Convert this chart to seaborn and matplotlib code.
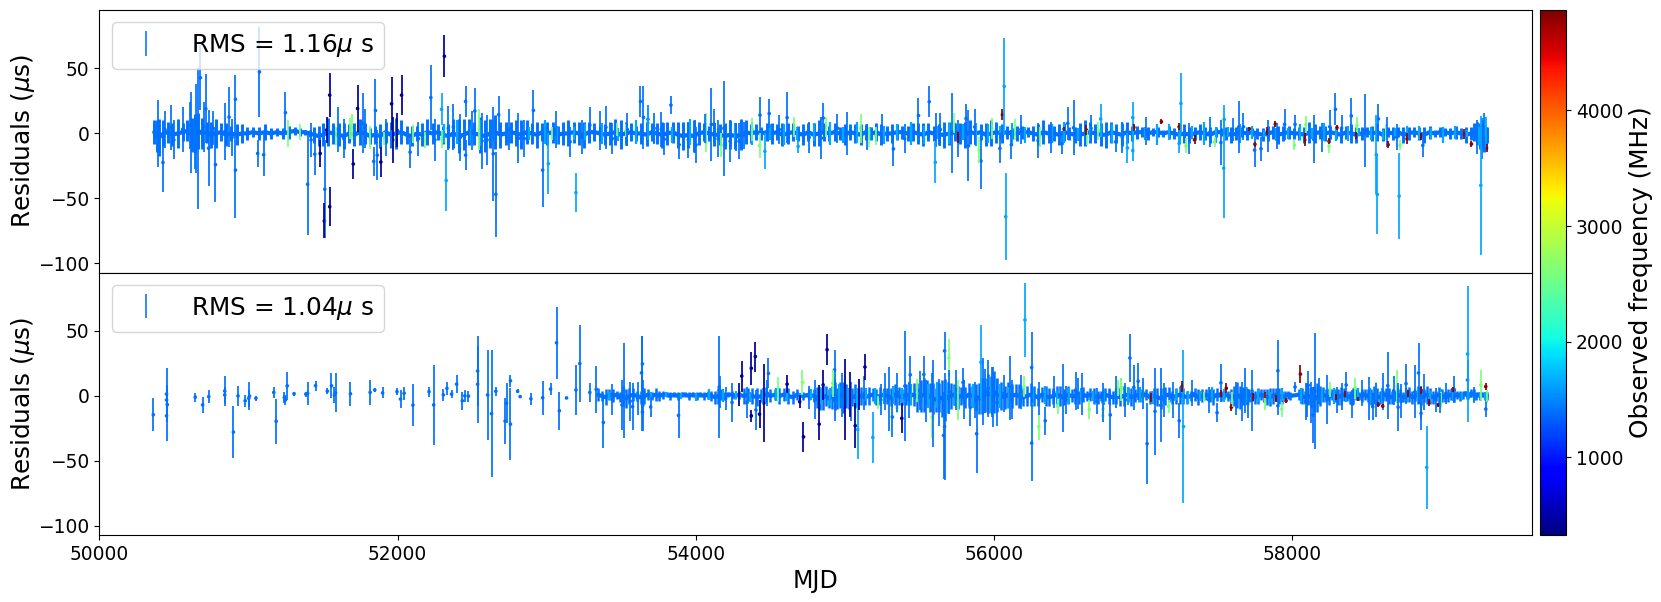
import matplotlib
matplotlib.use("Agg")
import matplotlib.pyplot as plt
import seaborn as sns
import numpy as np
import pandas as pd

# observed frequency of each backend group (MHz)
FREQ_BLUE = 1400
FREQ_LIGHT = 1650
FREQ_GREEN = 2600
FREQ_NAVY = 430
FREQ_RED = 4800
FREQ_MIN = 325
FREQ_MAX = 4870

# ---- upper panel: dense band around zero
top_core_mjd = [
    50368,50385,50402,50430,50458,50490,50525,50560,50590,50620,50640,50665,
    50690,50720,50750,50780,50815,50850,50885,50920,50955,50990,51030,51070,
    51110,51150,51190,51230,51270,51310,51345,51380,51410,51440,51470,51500,
    51535,51570,51605,51640,51675,51710,51745,51780,51815,51850,51885,51920,
    51955,51990,52025,52060,52095,52130,52165,52200,52235,52270,52305,52340,
    52375,52410,52445,52480,52515,52550,52585,52620,52655,52690,52725,52760,
    52795,52830,52865,52900,52935,52970,53005,53040,53075,53110,53145,53180,
    53215,53250,53285,53320,53355,53390,53425,53460,53495,53530,53565,53600,
    53635,53670,53705,53740,53775,53810,53845,53880,53915,53950,53985,54020,
    54055,54090,54125,54160,54195,54230,54265,54300,54335,54370,54405,54440,
    54475,54510,54545,54580,54615,54650,54685,54720,54755,54790,54825,54860,
    54895,54930,54965,55000,55035,55070,55105,55140,55175,55210,55245,55280,
    55315,55350,55385,55420,55455,55490,55525,55560,55595,55630,55665,55700,
    55735,55770,55805,55840,55875,55910,55945,55980,56015,56050,56085,56120,
    56155,56190,56225,56260,56295,56330,56365,56400,56435,56470,56505,56540,
    56575,56610,56645,56680,56715,56750,56785,56820,56855,56890,56925,56960,
    56995,57030,57065,57100,57135,57170,57205,57240,57275,57310,57345,57380,
    57415,57450,57485,57520,57555,57590,57625,57660,57695,57730,57765,57800,
    57835,57870,57905,57940,57975,58010,58045,58080,58115,58150,58185,58220,
    58255,58290,58325,58360,58395,58430,58465,58500,58535,58570,58605,58640,
    58675,58710,58745,58780,58815,58850,58885,58920,58955,58990,59025,59060,
    59095,59130,59165,59200,59220,59240,59255,59270,59282,59292,59298,59302,
]
top_core_res = [
    1,-2,-3,0,1,-1,0,1,2,-1,0,2,
    0,1,-1,0,1,-1,0,-1,0,0,1,0,
    1,0,1,0,1,2,1,1,0,-1,-2,-1,
    1,0,-1,-2,0,-1,1,0,-2,-1,-2,1,
    -1,0,1,-1,-2,0,-1,1,0,1,-1,-2,
    0,-2,-1,1,0,-1,-2,0,1,-1,0,1,
    0,-1,1,0,-1,1,0,1,-1,0,0,1,
    0,-1,1,1,0,-1,0,1,-1,0,1,0,
    0,-1,1,0,-1,0,1,-1,-2,-1,-2,0,
    1,0,-1,-1,-2,-1,-2,-1,1,0,1,0,
    1,0,1,-1,0,1,0,-1,1,-1,0,1,
    0,1,0,-1,1,0,-1,1,0,1,-1,0,
    0,1,1,0,1,0,-1,1,0,-1,-1,0,
    1,0,-1,1,0,1,-1,0,1,0,1,0,
    0,1,1,0,-1,1,0,0,-1,1,0,-1,
    -1,0,1,0,-1,-1,1,0,-1,1,0,1,
    1,0,1,1,0,1,0,-1,0,-1,0,1,
    0,-1,1,1,0,-1,0,1,0,1,0,-1,
    0,1,-1,0,1,0,0,-1,1,0,1,0,
    1,0,-1,1,0,-1,0,1,0,1,-1,1,
    0,1,-1,0,1,0,-1,1,0,1,1,0,
    1,0,-1,0,1,0,-2,-1,-2,-3,-2,-1,
]
top_core_err = [
    9,12,14,10,8,9,11,7,8,13,15,14,
    12,8,10,11,7,9,6,8,7,5,4,5,
    6,4,3,4,5,3,3,2,3,6,8,9,
    11,8,9,10,7,9,10,8,6,7,9,8,
    10,12,9,7,8,6,9,10,8,6,7,9,
    11,13,12,10,9,14,12,11,13,10,9,8,
    10,11,9,8,10,7,9,8,7,9,10,8,
    9,10,8,7,6,8,9,10,11,9,7,6,
    8,9,7,8,10,9,8,10,11,10,12,9,
    7,6,9,8,10,11,10,12,9,7,6,5,
    7,8,6,9,8,7,6,8,7,9,10,7,
    6,7,5,8,6,7,8,6,5,7,8,6,
    7,6,5,6,7,8,9,7,6,8,10,9,
    7,8,10,9,7,6,9,10,8,7,5,4,
    6,5,4,6,8,9,7,6,8,7,5,6,
    9,10,8,7,9,10,8,7,9,8,6,5,
    4,5,3,4,3,5,4,6,7,6,5,6,
    5,6,4,3,5,6,5,4,5,3,4,5,
    6,5,7,6,5,4,5,6,8,7,5,6,
    5,4,6,5,7,6,5,4,6,7,5,4,
    5,4,6,5,4,5,6,5,3,4,3,4,
    5,4,6,5,7,9,10,11,12,9,7,6,
]

# lighter blue backend inside the band
top_band_light_mjd = [
    52310,52400,52490,52560,52640,52750,52880,52990,53070,53180,
    53260,53370,53480,53600,53720,53840,53960,54070,54150,54260,
    54380,54500,54590,54680,54790,54900,54990,55080,55170,55260,
    55350,55440,55530,55620,55700,55790,55880,55960,56040,56120,
    56210,56300,56390,56470,56560,56640,56720,56790,56860,56930,
    57010,57090,57170,57250,57330,57410,57490,57570,57650,57730,
    57810,57890,57970,58050,58130,58210,58290,58370,58450,58530,
    58610,58690,58770,58850,58930,59010,59090,59170,59250,59295,
]
top_band_light_res = [
    0,1,-1,0,2,-1,0,1,-1,0,
    1,0,-1,1,0,-1,1,0,-1,1,
    0,1,-1,0,1,0,-1,1,0,-1,
    1,0,-1,1,0,1,-1,0,1,0,
    -1,1,0,1,-1,0,1,0,-1,1,
    0,-1,1,0,1,0,-1,1,0,1,
    0,-1,0,1,0,1,-1,0,1,0,
    -1,1,0,1,0,-1,1,0,-2,-1,
]
top_band_light_err = [
    7,9,6,10,8,6,5,9,7,5,
    6,8,5,9,7,6,10,8,5,7,
    9,6,8,5,7,9,6,8,5,7,
    6,9,7,5,8,6,9,7,5,8,
    6,4,7,8,5,6,4,7,9,6,
    5,8,6,7,5,9,6,4,7,5,
    3,5,4,6,4,7,5,6,3,5,
    4,3,6,5,4,6,5,3,7,5,
]

# ---- upper panel: individual long error bars
top_blue_mjd = [50391,50427,50482,50559,50614,50647,50659,50678,50714,50733,50779,50841,50870,50913,50913,
                51074,51062,51102,51248,51397,51445,51512,51768,51852,51840,51864,52084,52223,52456,52456,
                52518,52374,52566,52642,52659,52678,52810,52911,52973,53157,53289,53397,53629,53679,
                53649,53769,53788,53833,53888,54001,53994,54104,54123,54188,54272,54320,54430,54492,54612,
                54842,54854,55014,55325,55493,55565,55613,55716,55812,55828,55912,56039,56116,56295,56494,
                56533,56456,56815,57447,57521,57641,57672,57747,57790,57838,57948,58018,58143,58251,58289,
                58395,58486,58577,58635,58875]
top_blue_res = [0,-22.4,4.5,3.2,0.6,3.8,-4.2,42.9,19,-11.3,-24,1.3,12.6,26.3,-28.2,
                47.4,-15.4,-16.4,16,-39.1,-16,-42.9,7.7,17.6,-21.5,-16.7,-14.4,27.6,24.6,-16.7,
                17.3,5.1,-5.8,-15.6,-46.8,14.4,-3.8,17.7,-28.2,-6.4,6.4,4.7,24.6,10.9,
                12.4,3.2,-4.5,21.8,-8.7,-8.7,-2.3,7,7,4,-2.8,-1.3,14.1,15.3,12.2,
                -3.6,11.8,0,-11.9,13.8,24.4,2.9,0,11.5,-9.5,-21.2,-11.5,-8.7,-5.5,7.7,
                4.4,-7.9,-6.4,1,-7,5,5.1,-12.8,-11.8,-1.9,7,7,-4.5,5.1,18.6,
                13.5,2.3,11.2,1.3,-9.2]
top_blue_err = [25.6,22.4,17.3,17.3,31.4,34.6,54.2,25,26.7,29.2,29.1,21.8,22.8,18.6,37.2,
                34.6,10.3,16.4,16,39.1,16,37.8,23.1,24,11.3,19.2,11.8,25,11.8,11.5,
                17.3,17.9,21.2,36.2,32.7,14.4,19.2,15.6,28.2,11.5,14.1,16.3,11.8,10.9,
                24,13.5,12.2,6.9,11.3,13.8,12.6,28.1,12.2,36.5,10.5,10.3,14.1,11.4,19.9,
                16.4,11.8,16.7,13.2,13.8,12.1,13.2,30.8,11.5,27.4,21.2,11.5,11.3,13.2,12.8,
                21.3,7.9,7.7,11.3,17.3,19.9,10.3,12.8,9.2,12.2,12.2,7,18.6,12.8,12.2,
                13.5,27.9,11.2,11.5,9.2]

# medium bars standing just above the band
top_mid_mjd = [50440,50500,50610,50640,50700,50760,50890,51420,51600,51640,
               51780,51920,52140,52250,52340,52420,52500,52600,52750,52850,
               53060,53240,53360,53440,53540,53720,53950,54060,54150,54230,
               54290,54560,54760,54950,55150,55250,55400,55640,55760,55870,
               56180,56380,56650,56860,57020,57310,57600,57900,58200,58330,
               58700,59240,59270,59285]
top_mid_res = [3,-5,6,-7,5,4,-3,-5,3,-4,
               4,-3,-4,-5,4,-3,2,-5,3,-4,
               3,-3,2,-4,3,4,-5,4,-4,-6,
               -6,3,-3,4,-3,3,-4,3,-4,5,
               3,-3,4,-3,2,-4,3,-2,-3,4,
               -3,-3,-4,4]
top_mid_err = [14,15,18,20,19,13,14,13,17,15,
               15,14,13,16,17,18,15,19,16,14,
               14,13,15,12,13,12,14,11,14,16,
               14,11,12,11,10,12,11,13,14,14,
               11,12,10,12,11,12,9,10,11,10,
               10,13,16,12]

top_light_mjd = [52326,52295,53011,53196,53678,54463,54686,55606,56068,56078,56715,56930,56894,56930,57253,57241,
                 57540,57543,58570,58563,58716,59264,59297]
top_light_res = [-36.2,18.6,-23.3,-45.5,7.9,-13.7,-10,-22.2,36.2,-64.1,11.2,12.2,-11.2,-13.2,23.1,-7.7,
                 -26.7,10.8,-46.9,-16.4,-48.2,-40,1]
top_light_err = [23.3,12.2,23.3,14.7,13.1,13.7,4.9,15.8,37.4,33.3,11.2,12.2,11.2,8.1,23.1,7.7,
                 38.7,10.8,30.5,30.5,32.8,53.5,11.3]

top_green_mjd = [51265,52547,51696,52103,53038,54068,54171,54427,55105,55158,55900,55733,56307,56140,54655,
                 57478,58013,58090,58246,58433,58630,58721,59290,57286,
                 51349,51589,51684,51816,51912,51996,52187,52295,53469,53529,54379,54870,55206,55984,56620,56700]
top_green_res = [0,3.2,5,-0.6,0,0.9,-9,-9.4,3.8,-2.6,-12.8,7.7,-2.6,2.8,4.9,
                 -6.4,-9,6.7,-10,6.2,1,-9,5.1,-9.6,
                 1,-2,4,-3,-4,2,-5,-4,3,2,3,5,-2,4,-3,2]
top_green_err = [10.3,16,10,7,5,15,9,9.4,11.5,7.7,10.3,7.7,7.7,8,7.4,
                 3.8,3.8,6.7,4.9,6.2,6.2,3.8,7.7,5.8,
                 6,7,8,9,5,6,6,7,5,5,9,8,7,8,6,7]

top_navy_mjd = [51509,51545,51545,51481,51524,51732,51703,51888,51960,52027,51967,51996,52314]
top_navy_res = [-67.3,29.5,-56.4,-15.4,2.6,19.2,-23.5,-22,22.8,29.5,-4.9,2.6,59.4]
top_navy_err = [13.5,16.7,14.9,10.3,10.3,17.9,11.9,11.8,20.3,15.4,17.7,12.8,16.3]

top_red_mjd = [56056,57122,57241,57344,55761,56619,56937,56470,57886,58083,58246,58299,58426,58642,58769,
               58860,59153,59201,59302,57833,57711,57749]
top_red_res = [14.4,9,5.1,-4.9,-2.9,2.6,4.6,3.6,7.2,-4.9,-6,4.5,-1.3,-8.7,-4.1,
               -2.6,-0.4,-8.1,-11.2,1.7,3.6,-8.3]
top_red_err = [4.1,1.8,2.6,3.6,4.2,3.8,2.6,1.5,2.6,4.9,2.2,1.9,2.6,2.8,4.1,
               2.6,3.5,2.2,2.9,2.9,1.5,1.9]

# ---- lower panel: dense band around zero
low_core_mjd = [
    53345,53370,53395,53420,53445,53470,53490,53510,53530,53555,53580,53605,
    53630,53655,53680,53705,53730,53755,53780,53805,53830,53855,53880,53905,
    53930,53955,53980,54005,54030,54055,54080,54105,54130,54150,54170,54190,
    54215,54240,54265,54290,54320,54350,54380,54410,54440,54470,54500,54530,
    54560,54590,54620,54650,54680,54720,54760,54790,54810,54830,54850,54870,
    54890,54910,54930,54950,54970,54990,55010,55030,55050,55070,55090,55110,
    55135,55160,55185,55210,55235,55260,55285,55310,55335,55360,55385,55410,
    55435,55460,55485,55510,55530,55550,55570,55590,55610,55630,55650,55670,
    55690,55710,55730,55755,55780,55805,55830,55855,55880,55900,55920,55940,
    55960,55980,56000,56020,56045,56070,56095,56120,56145,56170,56195,56220,
    56245,56270,56295,56320,56345,56370,56395,56420,56445,56470,56495,56520,
    56545,56570,56595,56620,56645,56670,56695,56720,56745,56770,56795,56820,
    56845,56870,56895,56920,56945,56970,56995,57020,57045,57070,57095,57120,
    57145,57170,57195,57220,57245,57270,57295,57320,57345,57370,57395,57420,
    57445,57470,57495,57520,57545,57570,57590,57610,57630,57650,57670,57690,
    57710,57730,57750,57770,57790,57810,57830,57850,57870,57890,57910,57930,
    57950,57970,57985,58045,58065,58085,58105,58125,58145,58165,58185,58205,
    58225,58245,58265,58285,58305,58325,58345,58365,58385,58405,58425,58445,
    58465,58485,58505,58525,58545,58565,58585,58605,58625,58645,58665,58685,
    58705,58725,58745,58765,58785,58805,58825,58845,58865,58885,58905,58925,
    58945,58965,58985,59005,59025,59045,59065,59085,59105,59125,59145,59160,
    59170,59180,59190,59200,59215,59230,59245,59260,59275,59290,59298,59303,
]
low_core_res = [
    1,0,-1,1,0,1,-1,0,-2,0,1,0,
    -1,0,1,0,1,0,1,1,0,1,0,1,
    1,0,1,0,1,0,1,0,-1,0,1,0,
    1,1,0,1,0,1,0,-1,0,1,0,1,
    0,1,0,-1,1,0,1,0,-1,-2,-1,0,
    -2,-1,0,-2,1,-1,0,-2,-1,0,-1,0,
    -1,0,1,-1,0,1,0,-1,1,0,-1,1,
    0,1,-1,0,1,2,-1,-2,-3,-1,-2,-3,
    -1,0,1,-1,0,-1,1,0,-1,-2,0,1,
    2,1,3,1,0,-1,1,0,1,0,-1,0,
    1,0,-1,1,0,-1,0,1,0,-1,1,0,
    0,-1,1,0,1,0,-1,0,1,0,-1,0,
    -1,0,1,-1,0,1,0,1,-1,0,-1,-2,
    0,1,-1,0,1,0,-1,0,1,-1,0,1,
    0,-1,1,0,1,0,-1,0,1,-1,0,1,
    0,1,-1,0,1,0,-1,-1,0,1,0,-1,
    0,1,0,1,0,-1,0,-1,-2,-1,0,1,
    0,-1,1,0,-1,0,1,0,-1,0,1,0,
    0,1,0,-1,1,0,-1,0,1,0,-1,0,
    1,0,-1,0,1,-1,0,1,-1,0,1,0,
    -1,0,1,0,-1,0,1,0,1,0,1,2,
    1,0,1,2,1,0,1,0,1,0,-1,0,
]
low_core_err = [
    5,4,6,4,5,3,4,8,7,6,5,4,
    5,6,4,3,5,4,3,2,3,2,3,2,
    2,3,2,3,2,3,3,4,5,6,4,3,
    2,3,2,3,6,5,6,7,5,6,5,4,
    6,5,6,5,4,3,4,5,8,9,10,8,
    7,9,11,8,10,12,9,8,7,9,6,7,
    6,7,5,6,7,5,6,7,8,7,6,8,
    7,9,11,12,13,10,11,12,9,11,14,16,
    12,10,8,9,7,8,9,8,10,12,14,13,
    15,14,16,13,11,9,10,9,8,9,7,8,
    9,8,7,6,8,7,6,7,8,6,7,5,
    6,5,6,4,5,6,5,4,5,6,5,6,
    7,8,6,7,5,6,5,4,5,6,7,8,
    7,6,5,6,7,6,5,4,5,6,5,4,
    5,6,5,4,3,4,6,8,10,9,7,6,
    5,4,5,6,4,5,6,7,6,5,6,5,
    4,3,3,4,6,5,7,8,10,11,8,6,
    5,6,4,5,6,7,5,4,5,6,4,3,
    5,4,5,6,7,6,5,4,5,6,5,4,
    6,5,4,5,6,5,4,7,6,5,7,6,
    5,4,6,5,4,5,4,5,3,4,3,2,
    3,2,2,3,4,3,2,3,2,3,4,3,
]

low_band_light_mjd = [
    53420,53520,53610,53700,53800,53900,54000,54090,54180,54270,
    54360,54450,54540,54610,54700,54770,54840,54900,54960,55020,
    55080,55140,55200,55260,55320,55380,55440,55500,55560,55620,
    55680,55740,55800,55860,55920,55980,56040,56100,56180,56260,
    56340,56420,56500,56580,56660,56740,56820,56900,56980,57060,
    57140,57220,57300,57380,57460,57540,57620,57690,57770,57850,
    57930,58060,58130,58200,58280,58360,58440,58520,58600,58680,
    58760,58840,58920,59000,59080,59140,59180,59220,59260,59290,
]
low_band_light_res = [
    0,1,-1,0,1,0,-1,1,0,1,
    -1,0,1,0,-1,1,0,-1,1,0,
    -1,1,0,-1,1,0,1,-1,0,1,
    -1,0,1,0,-1,1,0,-1,1,0,
    1,-1,0,1,0,-1,1,0,1,-1,
    0,1,-1,0,1,0,-1,1,0,-1,
    1,0,-1,1,0,-1,1,0,1,-1,
    0,1,0,-1,1,0,1,0,1,0,
]
low_band_light_err = [
    3,5,4,3,2,2,3,4,5,3,
    4,6,5,4,3,4,6,7,8,6,
    7,5,6,5,7,6,8,7,9,10,
    12,8,7,9,11,13,9,8,7,6,
    7,5,6,5,4,6,5,7,6,5,
    6,4,5,4,6,5,8,6,5,4,
    5,6,4,5,6,4,5,6,5,4,
    6,5,4,6,5,3,2,3,2,3,
]

# ---- lower panel: individual long error bars
low_blue_mjd = [50362,50456,50451,50451,50451,50643,50693,50734,50841,50841,50899,50930,50978,51007,51002,51050,
                51170,51186,51260,51241,51248,51306,51397,51385,51450,51557,51584,51577,51529,51684,51816,51847,
                51900,51996,52020,52044,52103,52211,52242,52307,52331,52362,52396,52434,52451,52475,52537,52537,
                52604,52630,52659,52721,52731,52757,52757,52805,52822,52894,52973,53026,53066,53085,53133,53196,
                53222,53289,53332,53380,53517,53505,53576,53636,53644,
                53642,53642,53697,53884,54157,54243,54344,54403,54487,54930,55266,55294,55318,55402,55438,55529,
                55589,55668,55661,55668,55745,55792,55840,55883,55929,55960,55996,56104,56252,56252,56343,56463,
                56547,56588,56731,56779,56911,56937,56966,57026,57079,57117,57241,
                57521,57495,57682,57730,57903,57903,58018,58090,58107,58138,58152,58234,58330,58361,58402,58515,
                58539,58606,58640,58709,58762,58822,58846,58863,58990,59086,59175,59218,59297]
low_blue_res = [-14.4,-6.7,1.4,-3.1,-15.3,-0.9,-6.9,-0.5,3.8,0.8,-27.8,0,-3.7,-0.1,-1.8,-1.8,
                2.7,-19.5,7.8,-1.2,-3.1,1.7,2.1,1.4,7.9,7.8,2.4,0.8,3.7,1.7,2.7,4.6,
                2.4,3.3,-2.4,2.1,-7.1,3.3,-6.9,0.8,5.9,1.4,9.1,-3.7,0.1,-0.1,19.2,9,
                0.8,-13.6,3.6,-19.4,-5.6,11.7,-21.7,3.6,-0.5,-2.2,-1.4,5.3,40.9,-11.4,-1.5,4.6,
                24.9,2.7,5.1,-20.4,4.2,-6.9,-8.2,17.8,-7.3,
                24.7,-12.4,-8.5,-15,6.9,-5,-5,-10.8,17.4,20,3.3,-2.2,-16.2,7.7,16.3,16.5,
                -5.6,34.7,-30.4,-23.6,4.6,10.4,-8.8,-29.1,3.3,5.9,-0.5,6.3,21.9,-36.3,-19.1,-1.4,
                4,1.4,-5,-14.6,29.2,6.5,11.3,-36.7,-11.8,-7.2,-19.1,
                10.1,-12.9,4,-3.5,19.4,-7.6,6.9,-4.4,8.2,-14.6,3.7,-2.8,-0.5,8.5,-6.3,-1.8,
                -8.2,3.3,7.9,-8.6,9.5,3.3,17.7,-13.3,-5.6,4.9,12.3,0.8,-10.1]
low_blue_err = [12.6,27.9,7.1,7.7,4.5,3.5,6.4,5.1,11.5,6.4,20.1,7.7,4.5,10.9,6.4,1.8,
                4.5,17.4,10.9,4.5,3.8,1.7,9,1.9,3.8,9.6,15,6.4,2.2,9.4,9.6,1.3,
                4.2,2.6,7.1,5.1,16,3.8,30.8,4.4,5.1,3.2,7.1,7.1,4.5,4.2,26.9,29.5,
                34.6,49,3.6,17.6,15.4,4.5,27.6,1.5,1.3,4.7,13.2,4.5,27.8,14.7,1,19.2,
                29.7,7.1,17.9,19.9,36.8,19.2,17.9,28.6,19.6,
                21.4,14.5,7.9,17.1,39.5,14.7,12.2,15.4,11.5,15.4,14.1,24.7,15.6,42.6,14.7,14.5,
                33.3,14.7,33.7,41,15.4,10.9,14.7,29.9,25.6,21.8,23.1,24.7,27.6,29.4,10.9,26,
                14.7,16,14.7,19.2,18.2,17.3,14.4,31,33.6,28.5,13.5,
                14.5,7.3,17.3,23.4,23.7,7.1,3.6,14.1,11.3,21.8,44.5,19,10.3,10.3,10.9,16.7,
                10.3,14.1,25.6,18.3,15.1,20.5,23.3,12.8,7.7,10.5,15.4,6.4,5.8]

low_mid_mjd = [53440,53560,53610,54165,54200,54480,54760,54800,54930,54980,
               55040,55130,55240,55350,55430,55500,55545,55585,55630,55700,
               55800,55870,55940,55985,56020,56065,56120,56180,56300,56400,
               56480,56560,56690,56820,56880,57000,57140,57200,57330,57440,
               57620,57660,57700,58100,58125,58180,58300,58470,58560,58680,
               58730,58860,58880,58960,59030]
low_mid_res = [-3,-4,-2,3,-2,2,-1,-3,-3,1,
               -4,2,-3,3,-3,4,-4,3,-5,3,
               -3,-3,4,3,-5,2,-3,3,-2,3,
               -3,2,-4,3,-3,2,-3,-3,2,-3,
               -2,-4,-6,-3,-5,4,-3,2,-3,4,
               -4,-5,3,-3,2]
low_mid_err = [12,15,13,12,9,10,9,15,16,17,
               15,13,12,15,14,15,16,15,18,17,
               15,14,17,19,18,14,15,13,13,12,
               11,12,10,12,13,12,13,14,10,10,
               13,15,11,13,16,10,10,10,13,11,
               13,13,14,9,8]

low_light_mjd = [55086,55187,55912,56207,57270,58901,59175]
low_light_res = [-25.8,-31.9,26,58.5,-23.6,-55,32.3]
low_light_err = [22.7,19.9,28.6,28.2,59,31.9,52.3]

low_green_mjd = [54715,54918,55584,55697,55757,56300,56638,54552,
                 57598,57814,57929,58702,58863,59264,59302,56729,56854,57406,
                 55349,56200,56427,56731,56853,57170,56830,57000,55000,55220,55480,58250,58420,58560,59000]
low_green_res = [10.4,9.7,-16.5,29.4,-3.1,-23.6,-10.5,5.3,
                 -2.4,-4.4,-10.1,7.2,-8.2,8.5,0.1,-15.3,6.5,-0.5,
                 -9,7,-8,-10,5,-8,6,3,6,-5,4,5,6,4,-3]
low_green_err = [9.6,10.3,16,14.5,15.4,10.3,7.4,9.6,
                 5.8,6.4,5.8,12.8,7.7,11.5,4.5,4.5,7.1,3.8,
                 4,8,6,6,9,5,6,8,9,5,9,6,8,7,6]

low_navy_mjd = [54308,54291,54372,54372,54399,54456,54427,54612,54696,54722,54827,54827,54854,54880,
                55002,55031,55069,55093,55134,55381]
low_navy_res = [15.3,1,21.3,-15.3,30.3,-5.5,-14,9.1,-4.4,-31.5,-0.5,-21.7,8.5,35.6,
                -2.8,1.4,-22.9,1,22.3,-17.2]
low_navy_err = [11.9,8.7,12.8,4.5,11.5,30.1,10.9,7.1,5.1,11.8,9,12.2,11.5,11.8,
                31,17.3,17.3,11.8,10,11.5]

low_red_mjd = [57050,57261,57557,57591,57958,58054,58294,57521,57737,57814,57893,58354,58443,58577,58606,
               58774,58863,58918,58978,59074,59297]
low_red_res = [-1.2,7.4,5.9,-8.7,-3.7,16.8,-0.8,1.8,-0.5,0.8,-2.1,1.5,-2.3,-6.5,-7.8,
               1.8,4.4,-5.1,-6.7,4.7,7.2]
low_red_err = [3.7,4.1,3.8,2.6,1.9,7.1,2.3,2.8,3.1,2.6,2.8,2.6,1.3,2.2,1.7,
               2.8,2.8,2.6,1.5,1.9,2.6]

x_ticks = [50000, 52000, 54000, 56000, 58000]
y_ticks = [50, 0, -50, -100]
cbar_ticks = [1000, 2000, 3000, 4000]

sns.set_style("ticks", {"axes.edgecolor": "black", "xtick.color": "black", "ytick.color": "black",
                        "text.color": "black", "axes.labelcolor": "black"})
plt.rcParams["font.family"] = ["DejaVu Sans"]
plt.rcParams["mathtext.fontset"] = "dejavusans"

norm = plt.Normalize(FREQ_MIN, FREQ_MAX)
cmap = plt.get_cmap("jet")


def make_frame(mjd, res, err, freq):
    return pd.DataFrame({"mjd": mjd, "res": res, "err": err, "freq": freq})


def draw_panel(ax, core, band_light, groups, rms, core_lw):
    """Pasmo wokol zera, potem pojedyncze slupki bledow, grupami wg czestotliwosci"""
    # band first, it sits under the long bars
    sns.lineplot(data=core, x="mjd", y="res", ax=ax, color=cmap(norm(FREQ_BLUE)), lw=3,
                 estimator=None, sort=False, legend=False)
    ax.errorbar(core["mjd"], core["res"], yerr=core["err"], fmt="none",
                ecolor=cmap(norm(FREQ_BLUE)), elinewidth=core_lw)
    ax.errorbar(band_light["mjd"], band_light["res"], yerr=band_light["err"], fmt="none",
                ecolor=cmap(norm(FREQ_LIGHT)), elinewidth=1.6)

    data = pd.concat(groups, ignore_index=True)
    ax.errorbar(data["mjd"], data["res"], yerr=data["err"], fmt="none",
                ecolor=cmap(norm(data["freq"].to_numpy())), elinewidth=1.25)
    sns.scatterplot(data=data, x="mjd", y="res", hue="freq", hue_norm=norm, palette=cmap,
                    s=7, linewidth=0, legend=False, ax=ax)

    # only the legend handle, same look as the bars
    ax.errorbar([], [], yerr=[], fmt="none", ecolor=cmap(norm(FREQ_BLUE)), elinewidth=1.15,
                label=f"RMS = {rms}$\\mu$ s")
    ax.legend(loc="upper left", fontsize=17.8)

    ax.set_xlim(50000, 59607)
    ax.set_ylim(-107, 95)
    ax.set_yticks(y_ticks)
    ax.set_xticks(x_ticks)
    ax.tick_params(labelsize=13.4)
    ax.set_ylabel("Residuals ($\\mu$s)", fontsize=17.8, labelpad=1)


fig = plt.figure(figsize=(16.61, 6.02), dpi=100)
ax_top = fig.add_axes([99.3 / 1661, (602 - 272.5) / 602, 1432.7 / 1661, 262.5 / 602])
ax_low = fig.add_axes([99.3 / 1661, (602 - 535) / 602, 1432.7 / 1661, 262.5 / 602], sharex=ax_top)
cax = fig.add_axes([1539.5 / 1661, (602 - 535) / 602, 26.5 / 1661, 525 / 602])

top_groups = [
    make_frame(top_green_mjd, top_green_res, top_green_err, FREQ_GREEN),
    make_frame(top_blue_mjd, top_blue_res, top_blue_err, FREQ_BLUE),
    make_frame(top_mid_mjd, top_mid_res, top_mid_err, FREQ_BLUE),
    make_frame(top_light_mjd, top_light_res, top_light_err, FREQ_LIGHT),
    make_frame(top_navy_mjd, top_navy_res, top_navy_err, FREQ_NAVY),
    make_frame(top_red_mjd, top_red_res, top_red_err, FREQ_RED),
]
low_groups = [
    make_frame(low_green_mjd, low_green_res, low_green_err, FREQ_GREEN),
    make_frame(low_blue_mjd, low_blue_res, low_blue_err, FREQ_BLUE),
    make_frame(low_mid_mjd, low_mid_res, low_mid_err, FREQ_BLUE),
    make_frame(low_light_mjd, low_light_res, low_light_err, FREQ_LIGHT),
    make_frame(low_navy_mjd, low_navy_res, low_navy_err, FREQ_NAVY),
    make_frame(low_red_mjd, low_red_res, low_red_err, FREQ_RED),
]

draw_panel(ax_top, make_frame(top_core_mjd, top_core_res, top_core_err, FREQ_BLUE),
           make_frame(top_band_light_mjd, top_band_light_res, top_band_light_err, FREQ_LIGHT),
           top_groups, "1.16", 2.1)
draw_panel(ax_low, make_frame(low_core_mjd, low_core_res, low_core_err, FREQ_BLUE),
           make_frame(low_band_light_mjd, low_band_light_res, low_band_light_err, FREQ_LIGHT),
           low_groups, "1.04", 1.8)

ax_top.tick_params(axis="x", bottom=False, labelbottom=False)
ax_top.set_xlabel("")
ax_low.set_xlabel("MJD", fontsize=17)

cbar = fig.colorbar(plt.cm.ScalarMappable(norm=norm, cmap=cmap), cax=cax)
cbar.set_ticks(cbar_ticks)
cbar.ax.tick_params(labelsize=13.4)
cbar.set_label("Observed frequency (MHz)", fontsize=17.8)

fig.savefig("out.png", dpi=100)
